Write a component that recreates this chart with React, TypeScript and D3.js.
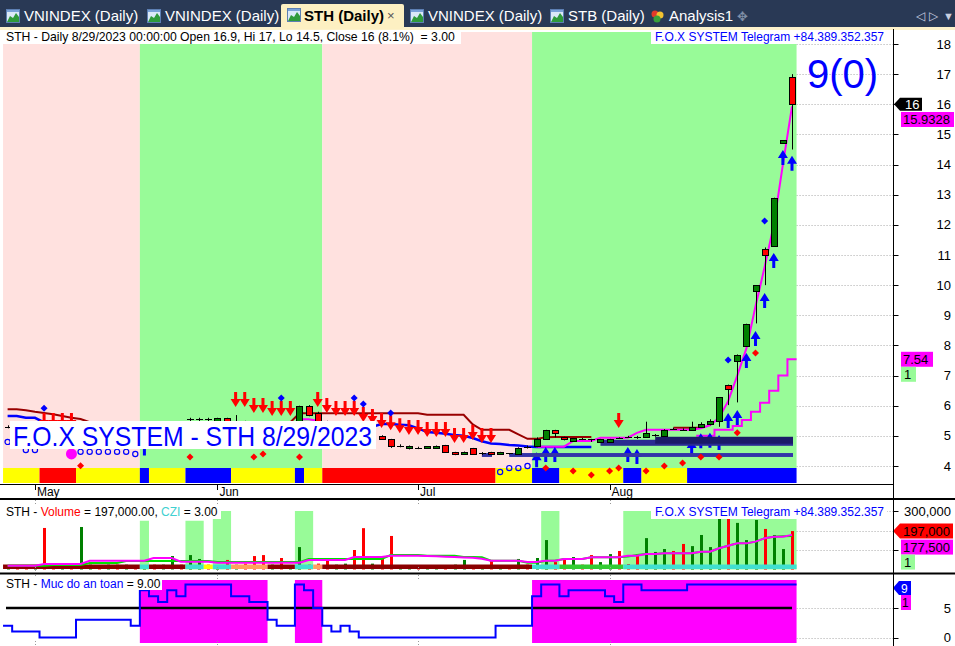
import React from 'react';
import * as d3 from 'd3';

const FONT = "'Liberation Sans', Arial, sans-serif";
const _ = null;

// trading days on screen
const aprDays = [26, 27, 28];
const mayDays = [4, 5, 8, 9, 10, 11, 12, 15, 16, 17, 18, 19, 22, 23, 24, 25, 26, 29, 30, 31];
const junDays = [1, 2, 5, 6, 7, 8, 9, 12, 13, 14, 15, 16, 19, 20, 21, 22, 23, 26, 27, 28, 29, 30];
const julDays = [3, 4, 5, 6, 7, 10, 11, 12, 13, 14, 17, 18, 19, 20, 21, 24, 25, 26, 27, 28, 31];
const augDays = [1, 2, 3, 4, 7, 8, 9, 10, 11, 14, 15, 16, 17, 18, 21, 22, 23, 24, 25, 28, 29];
const monthNames = ['May', 'Jun', 'Jul', 'Aug'];

const dates = [
  ...aprDays.map(d => `4/${d}`),
  ...mayDays.map(d => `5/${d}`),
  ...junDays.map(d => `6/${d}`),
  ...julDays.map(d => `7/${d}`),
  ...augDays.map(d => `8/${d}`),
];
const monthFirst = [`5/${mayDays[0]}`, `6/${junDays[0]}`, `7/${julDays[0]}`, `8/${augDays[0]}`];

// candles
const opens = [5.3, 5.3, 5.25, 5.25, 5.2, 5.05, 5.0, 5.0, 4.95, 5.15,
  5.2, 5.15, 5.2, 5.2, 5.2, 5.2, 5.25, 5.2, 5.25, 5.4,
  5.55, 5.55, 5.55, 5.4, 5.58, 5.45, 5.45, 5.42, 5.38, 5.35,
  5.38, 5.32, 5.46, 6.0, 5.76, 5.46, 5.35, 5.3, 5.35, 5.2,
  5.05, 5.0, 4.9, 4.68, 4.6, 4.6, 4.6, 4.6, 4.7, 4.47,
  4.4, 4.6, 4.42, 4.47, 4.4, 4.43, 4.4, 4.63, 4.66, 4.9,
  5.2, 4.97, 4.83, 4.9, 4.9, 4.8, 4.8, 4.93, 4.96, 4.96,
  4.97, 5.03, 5.0, 5.23, 5.21, 5.2, 5.3, 5.4, 5.5, 6.68,
  7.47, 7.96, 9.8, 11.19, 11.3, 14.7, 16.9];
const highs = [5.35, 5.35, 5.3, 5.3, 5.4, 5.1, 5.05, 5.05, 5.3, 5.25,
  5.25, 5.25, 5.25, 5.25, 5.25, 5.3, 5.3, 5.3, 5.45, 5.45,
  5.6, 5.6, 5.6, 5.6, 5.6, 5.69, 5.5, 5.48, 5.45, 5.4,
  5.42, 5.4, 6.0, 6.02, 5.8, 5.5, 5.4, 5.38, 5.4, 5.25,
  5.1, 5.02, 4.9, 4.72, 4.68, 4.64, 4.66, 4.68, 4.7, 4.47,
  4.48, 4.6, 4.46, 4.47, 4.47, 4.43, 4.62, 4.68, 4.95, 5.2,
  5.2, 4.97, 4.93, 4.93, 4.9, 4.9, 4.9, 4.95, 5.0, 5.0,
  5.47, 5.06, 5.22, 5.27, 5.25, 5.47, 5.45, 5.55, 6.28, 6.7,
  7.7, 8.72, 10.0, 11.25, 12.9, 14.8, 17.0];
const lows = [5.25, 5.2, 5.2, 5.15, 5.0, 4.95, 4.95, 4.9, 4.9, 5.1,
  5.1, 5.1, 5.15, 5.1, 5.15, 5.15, 5.2, 5.15, 5.2, 5.35,
  5.45, 5.45, 5.45, 5.35, 5.35, 5.4, 5.4, 5.35, 5.3, 5.3,
  5.3, 5.3, 5.4, 5.65, 5.4, 5.3, 5.25, 5.25, 5.15, 5.0,
  4.98, 4.9, 4.6, 4.62, 4.55, 4.56, 4.58, 4.58, 4.45, 4.36,
  4.38, 4.38, 4.36, 4.36, 4.38, 4.38, 4.38, 4.58, 4.62, 4.9,
  4.95, 4.85, 4.83, 4.86, 4.8, 4.8, 4.8, 4.9, 4.93, 4.9,
  4.93, 4.97, 4.97, 5.2, 5.18, 5.17, 5.3, 5.35, 5.3, 6.02,
  6.11, 7.96, 8.73, 10.0, 11.3, 14.7, 14.5];
const closes = [5.3, 5.25, 5.25, 5.2, 5.05, 5.0, 5.0, 4.95, 5.2, 5.2,
  5.15, 5.2, 5.2, 5.2, 5.2, 5.25, 5.2, 5.25, 5.4, 5.4,
  5.55, 5.55, 5.55, 5.58, 5.4, 5.45, 5.42, 5.38, 5.35, 5.38,
  5.32, 5.38, 5.99, 5.69, 5.46, 5.35, 5.3, 5.35, 5.2, 5.05,
  5.02, 4.9, 4.66, 4.68, 4.68, 4.6, 4.66, 4.68, 4.47, 4.4,
  4.47, 4.4, 4.42, 4.4, 4.47, 4.43, 4.6, 4.63, 4.9, 5.2,
  5.1, 4.9, 4.93, 4.9, 4.9, 4.9, 4.9, 4.93, 4.96, 4.96,
  5.1, 5.03, 5.2, 5.23, 5.21, 5.3, 5.4, 5.5, 6.28, 6.56,
  7.67, 8.7, 10.0, 10.99, 12.88, 14.8, 16.0];

// price-pane overlays
const resistLine = [5.88, 5.88, 5.85, 5.8, 5.76, 5.72, 5.66, 5.6, 5.56,
  5.45, 5.45, 5.45, 5.45, 5.45, 5.45, 5.45, 5.45, 5.45, 5.45, 5.45, 5.45, 5.45, 5.45, 5.45, 5.45, 5.45, 5.45, 5.45, 5.45, 5.45, 5.45, 5.45,
  5.75, 5.75, 5.75, 5.75, 5.75, 5.75, 5.75, 5.75, 5.75, 5.75, 5.75, 5.75, 5.75, 5.75,
  5.7, 5.7, 5.7, 5.7, 5.7, 5.38, 5.2, 5.2, 5.2, 5.2, 5.05, 4.9, 4.9, 4.95,
  4.96, 4.96, 4.96, 4.96, 4.96, _, _, _, _, _, _, _, _,
  5.27, 5.27, 5.27, 5.27, _, _, _, _, _, _, _, _, _, _];
const blueLine = [5.66, 5.66, 5.6, 5.6, 5.45,
  5.3, 5.3, 5.3, 5.3, 5.3, 5.3, 5.3, 5.3, 5.3, 5.3, 5.3, 5.3, 5.3, 5.3, 5.3, 5.3, 5.3, 5.3,
  5.3, 5.3, 5.3, 5.3, 5.3, 5.3, 5.3, 5.3, 5.3, 5.3, 5.3, 5.3, 5.3, 5.3, 5.3, 5.3, 5.3, 5.3,
  5.39, 5.39, 5.37, 5.35, 5.25, 5.13, 5.1, 5.07, 5.03, 5.0, 4.93, 4.82, 4.75, 4.73, 4.7, 4.68, 4.65,
  4.63, 4.63, 4.63, 4.63, 4.63, 4.63, 4.63,
  _, _, _, _, _, _, _, _, _, _, _, _, _, _, _, _, _, _, _, _, _, _];
const maLine = [_, _, _, _, _, _, _, _, _, _, _, _, _, _, _,
  5.3, 5.3, 5.3, 5.3, 5.3, 5.3, 5.3, 5.3, 5.3, 5.3, 5.3, 5.3, 5.3, 5.3, 5.3, 5.3, 5.3,
  5.55, 5.55, 5.5,
  _, _, _, _, _, _, _, _, _, _, _, _, _, _, _, _, _, _, _, _, _, _, _,
  4.64, 4.64, 4.64, 4.64, 4.83, 4.83, 4.83, 4.94, 4.94, 4.94, 4.94, 5.1,
  5.2, 5.2, 5.2, 5.2, 5.2, 5.2, 5.25, 5.35, 5.6, 6.15, 7.0, 7.9, 9.3, 10.6, 12.0, 14.0, 15.93];
const stopLine = [...Array(76).fill(_), 5.0, 5.0, 5.2, 5.2, 5.33, 5.53, 5.8, 6.1, 6.5, 7.0, 7.54];

const zoneStart = [0, 15, 35, 58];
const zoneEnd = [14, 34, 57, 86];
const zoneKind = ['sell', 'buy', 'sell', 'buy'];

const stripLen = [4, 4, 7, 1, 4, 5, 7, 1, 2, 19, 4, 3, 7, 2, 5, 12];
const stripCol = ['Y', 'R', 'Y', 'B', 'Y', 'B', 'Y', 'B', 'Y', 'R', 'Y', 'B', 'Y', 'B', 'Y', 'B'];

const downArrowBar = [4, 5, 6, 7, 25, 26, 27, 28, 29, 30, 31, 34, 35, 36, 37, 38, 39, 40, 41, 42, 43, 44, 45, 46, 47, 48, 49, 50, 51, 52, 53, 67];
const downArrowTip = [5.26, 5.26, 5.26, 5.26, 5.96, 5.96, 5.76, 5.76, 5.66, 5.66, 5.66, 5.96, 5.76, 5.66, 5.66, 5.66, 5.46, 5.39, 5.26, 5.19, 5.09, 5.03, 5.03, 4.96, 4.96, 4.96, 4.76, 4.76, 4.86, 4.76, 4.76, 5.26];
const upArrowBar = [15, 58, 59, 60, 68, 69, 75, 76, 77, 78, 79, 80, 81, 82, 83, 84, 85, 86];
const upArrowTip = [4.85, 4.46, 4.63, 4.63, 4.63, 4.56, 4.86, 5.09, 5.1, 5.03, 5.76, 5.86, 7.75, 8.48, 9.74, 11.07, 14.48, 14.29];
const blueDiaBar = [4, 30, 38, 39, 42, 79, 83];
const blueDiaVal = [5.92, 6.26, 6.26, 6.06, 5.76, 7.52, 12.13];
const redDiaBar = [8, 20, 27, 28, 32, 59, 62, 64, 66, 67, 70, 72, 74, 76, 78, 80, 82];
const redDiaVal = [4.01, 4.3, 4.3, 4.4, 4.3, 3.93, 3.83, 3.7, 3.83, 3.93, 3.83, 4.0, 4.1, 4.3, 4.3, 5.1, 7.75];
const circleBar = [0, 2, 3, 8, 9, 10, 11, 12, 13, 14, 54, 55, 56, 57];
const circleVal = [4.8, 4.53, 4.53, 4.47, 4.47, 4.47, 4.47, 4.47, 4.47, 4.4, 3.8, 3.93, 3.93, 4.0];
const bigDotBar = 7;
const bigDotVal = 4.4;

const bandStart = [65, 71, 52, 55];
const bandEnd = [86, 86, 53, 86];
const bandHi = [4.87, 4.97, 4.43, 4.43];
const bandLo = [4.67, 4.74, 4.3, 4.3];
const bandCol = ['#2b2b92', '#1b1b68', '#3434a8', '#3434a8'];

const priceTicks = d3.range(4, 19);

// volume pane (thousands)
const volK = [20, 15, 18, 20, 213, 15, 20, 15, 218, 25,
  15, 25, 25, 25, 20, 20, 25, 25, 69, 25,
  74, 54, 25, 15, 49, 25, 30, 69, 74, 25,
  59, 20, 115, 25, 30, 59, 25, 30, 100, 212,
  30, 64, 172, 10, 15, 20, 10, 20, 10, 25,
  49, 20, 15, 49, 20, 20, 54, 25, 59, 151,
  38, 59, 64, 25, 74, 38, 79, 95, 28, 79,
  161, 90, 105, 95, 131, 120, 177, 115, 264, 264,
  239, 151, 254, 208, 177, 105, 197];
const volDir = 'grrgrrgrgg' + 'rgrgrgrggr' + 'ggrgrgrrrg' + 'rggrrrggrr' + 'grrggrggrg' +
  'grgrgrgrgg' + 'rrgrrggrrr' + 'gggrrggggr' + 'gggrggr';
const volMaSlow = [19, 19, 19, 19, 19, 23, 23, 23, 23, 33,
  33, 33, 33, 44, 44, 44, 44, 44, 44, 44,
  44, 44, 44, 38, 38, 38, 38, 38, 38, 38,
  38, 38, 38, 54, 54, 54, 54, 54, 54, 54,
  54, 54, 74, 74, 74, 74, 71, 71, 71, 71,
  64, 64, 63, 45, 45, 45, 45, 35, 35, 45,
  45, 54, 54, 54, 63, 63, 63, 63, 66, 74,
  79, 79, 83, 83, 83, 83, 91, 91, 109, 122,
  134, 134, 143, 160, 168, 170, 172];
const volMaFast = [19, 19, 19, 19, 28, 28, 28, 28, 28, 45,
  45, 45, 45, 45, 45, 45, 59, 59, 59, 40,
  40, 40, 40, 35, 35, 35, 35, 35, 35, 35,
  35, 35, 35, 49, 49, 49, 49, 49, 64, 64,
  64, 64, 71, 71, 70, 70, 69, 68, 66, 64,
  62, 60, 55, 45, 45, 45, 45, 38, 38, 45,
  45, 54, 54, 54, 63, 63, 63, 63, 70, 70,
  79, 79, 83, 83, 83, 83, 91, 91, 109, 122,
  134, 134, 143, 160, 168, 168, 177.5];
const volStripLen = [15, 1, 4, 2, 1, 2, 4, 3, 2, 1, 23, 3, 7, 19];
const volStripCol = ['#8b0000', '#40e0d0', '#8b0000', '#40e0d0', '#ffff00', '#40e0d0', '#ffa060', '#8b0000', '#40e0d0', '#ffa060', '#8b0000', '#40e0d0', '#32cd32', '#40e0d0'];
const volBlockStart = [15, 20, 23, 32, 59, 68];
const volBlockEnd = [15, 21, 24, 33, 60, 86];
const volBlockTop = [250, 250, 300, 300, 300, 300]; // thousands
const volTicks = [100, 200, 300];
const volTickLabels = [300]; // the others sit under the value tags

// safety pane
const safety = [2, 1, 1, 1, 0, 0, 0, 0, 3, 3,
  3, 3, 3, 3, 2, 8, 7, 6, 8, 7,
  9, 9, 9, 9, 9, 7, 7, 6, 6, 3,
  2, 2, 9, 8, 5, 2, 1, 2, 1, 0,
  0, 0, 0, 0, 0, 0, 0, 0, 0, 0,
  0, 0, 0, 0, 2, 2, 2, 2, 7, 9,
  9, 7, 8, 8, 8, 8, 7, 6, 9, 9,
  8, 8, 8, 8, 8, 9, 9, 9, 9, 9,
  9, 9, 9, 9, 9, 9, 9];
const safeBlockStart = [15, 32, 58];
const safeBlockEnd = [28, 34, 86];

const tabLabels = ['VNINDEX (Daily)', 'VNINDEX (Daily)', 'STH (Daily)', 'VNINDEX (Daily)', 'STB (Daily)', 'Analysis1'];

export default function App() {
  const AX = 893.5;
  const x = d3.scalePoint<string>().domain(dates).range([7.6, 792]);
  const step = x.step();
  const xi = (i: number) => x(dates[i]) as number;
  const py = d3.scaleLinear().domain([4, 18]).range([466, 44]);
  const vy = d3.scaleLinear().domain([0, 300]).range([569.5, 511]);
  const sy = d3.scaleLinear().domain([0, 9]).range([637.5, 584.4]);
  const rightEdge = xi(dates.length - 1) + step / 2;
  const crisp = (v: number) => Math.round(v) + 0.5;

  const pathOf = (vals: (number | null)[], y: d3.ScaleLinear<number, number>) =>
    d3.line<number | null>()
      .defined(v => v != null)
      .x((_v, i) => xi(i))
      .y(v => y(v as number))(vals) || '';

  const stepPath = (vals: (number | null)[], y: d3.ScaleLinear<number, number>) => {
    const pts: [number, number][] = [];
    vals.forEach((v, i) => {
      if (v == null) return;
      pts.push([xi(i) - step / 2, y(v)], [xi(i) + step / 2, y(v)]);
    });
    return d3.line()(pts) || '';
  };

  const span = (a: number, b: number) => [xi(a) - step / 2, xi(b) + step / 2];

  const stripRects: { s: number; e: number; c: string }[] = [];
  let acc = 0;
  stripLen.forEach((n, k) => { stripRects.push({ s: acc, e: acc + n - 1, c: stripCol[k] }); acc += n; });
  const stripColor: Record<string, string> = { Y: '#ffff00', R: '#ff0000', B: '#0000ff' };

  const volStrip: { s: number; e: number; c: string }[] = [];
  acc = 0;
  volStripLen.forEach((n, k) => { volStrip.push({ s: acc, e: acc + n - 1, c: volStripCol[k] }); acc += n; });

  const downArrow = (cx: number, tip: number) =>
    `M${cx - 1.5},${tip - 15}h3v7h3.5l-5,8l-5,-8h3.5z`;
  const upArrow = (cx: number, tip: number) =>
    `M${cx},${tip}l5,8h-3.5v7h-3v-7h-3.5z`;
  const diamond = (cx: number, cy: number) =>
    `M${cx},${cy - 3.5}l3.5,3.5l-3.5,3.5l-3.5,-3.5z`;

  const tabIconX = [6, 147, 287, 410, 550];
  const tabTextX = [24, 165, 304, 428, 568, 669];

  return (
    <>
      <style>{'body{margin:0}'}</style>
      <svg width={955} height={646} style={{ display: 'block', fontFamily: FONT }}>
        <rect width={955} height={646} fill="#fff" />

        {/* tab bar */}
        <rect width={955} height={28} fill="#293955" />
        <rect x={0} y={27} width={955} height={3} fill="#fdf2cc" />
        <rect x={281} y={4} width={123} height={25} rx={2} fill="#fdf0c2" />
        {tabIconX.map((ix, k) => (
          <g key={'ti' + k} transform={`translate(${ix},${k === 2 ? 8 : 9})`}>
            <rect x={0.5} y={0.5} width={13} height={13} fill="#dbe9f7" stroke="#5d7fb3" />
            <path d="M1,13 L4,7 L7,9 L10,4 L13,8 L13,13 Z" fill="#2f9a3a" />
            <rect x={1} y={1} width={12} height={2} fill="#7aa2d8" />
          </g>
        ))}
        <g transform="translate(650,9)">
          <circle cx={5} cy={5} r={3.5} fill="#e23a2a" />
          <circle cx={10} cy={6} r={3.5} fill="#f2c230" />
          <circle cx={7} cy={10} r={3.5} fill="#3aa13a" />
        </g>
        {tabLabels.map((t, k) => (
          <text key={'tt' + k} x={tabTextX[k]} y={21} fontSize={15}
            fill={k === 2 ? '#000' : '#fff'} fontWeight={k === 2 ? 'bold' : 'normal'}>{t}</text>
        ))}
        <text x={387} y={20} fontSize={13} fill="#555">×</text>
        <text x={737} y={21} fontSize={13} fill="#8090a8">✥</text>
        <text x={916} y={20} fontSize={12} fill="#c8d0e0">◁</text>
        <text x={929} y={20} fontSize={12} fill="#c8d0e0">▷</text>
        <text x={943} y={20} fontSize={11} fill="#c8d0e0">▼</text>

        {/* ===== price pane ===== */}
        {priceTicks.map(v => (
          <line key={'pg' + v} x1={rightEdge} x2={AX} y1={crisp(py(v))} y2={crisp(py(v))}
            stroke="#a8a8a8" strokeDasharray="1,2" />
        ))}
        {zoneStart.map((s, k) => {
          const [a, b] = span(s, zoneEnd[k]);
          return <rect key={'z' + k} x={a} y={32} width={b - a} height={436}
            fill={zoneKind[k] === 'buy' ? '#98fb98' : '#ffe1df'} />;
        })}
        {stripRects.map((r, k) => {
          const [a, b] = span(r.s, r.e);
          return <rect key={'s' + k} x={a} y={468} width={b - a} height={15} fill={stripColor[r.c]} />;
        })}

        <path d={pathOf(resistLine, py)} fill="none" stroke="#990000" strokeWidth={2} />
        <path d={pathOf(blueLine, py)} fill="none" stroke="#0000ff" strokeWidth={2.5} />
        <path d={pathOf(maLine, py)} fill="none" stroke="#ff00ff" strokeWidth={2} />
        <path d={stepPath(stopLine, py)} fill="none" stroke="#ff00ff" strokeWidth={2} />

        {downArrowBar.map((b, k) => (
          <path key={'da' + k} d={downArrow(xi(b), py(downArrowTip[k]))} fill="#ff0000" />
        ))}
        {upArrowBar.map((b, k) => (
          <path key={'ua' + k} d={upArrow(xi(b), py(upArrowTip[k]))} fill="#0000ff" />
        ))}

        {bandStart.map((s, k) => (
          <rect key={'b' + k} x={xi(s)} y={py(bandHi[k])} width={xi(bandEnd[k]) + 1 - xi(s)}
            height={py(bandLo[k]) - py(bandHi[k])} fill={bandCol[k]} />
        ))}

        {dates.map((d, i) => {
          const cx = crisp(xi(i));
          const o = opens[i], c = closes[i];
          const yh = py(highs[i]), yl = py(lows[i]);
          if (Math.abs(o - c) < 0.005) {
            return (
              <g key={'c' + i}>
                <line x1={cx} x2={cx} y1={yh} y2={yl} stroke="#000" />
                <line x1={cx - 3.5} x2={cx + 3.5} y1={crisp(py(o))} y2={crisp(py(o))} stroke="#000" />
              </g>
            );
          }
          const top = py(Math.max(o, c)), bot = py(Math.min(o, c));
          return (
            <g key={'c' + i}>
              <line x1={cx} x2={cx} y1={yh} y2={yl} stroke="#000" />
              <rect x={cx - 3} y={Math.round(top) + 0.5} width={6} height={Math.max(Math.round(bot - top), 1)}
                fill={c > o ? '#008000' : '#ff0000'} stroke="#000" />
            </g>
          );
        })}

        {blueDiaBar.map((b, k) => (
          <path key={'bd' + k} d={diamond(xi(b), py(blueDiaVal[k]))} fill="#0000ff" />
        ))}
        {redDiaBar.map((b, k) => (
          <path key={'rd' + k} d={diamond(xi(b), py(redDiaVal[k]))} fill="#ff0000" />
        ))}
        {circleBar.map((b, k) => (
          <circle key={'oc' + k} cx={xi(b)} cy={py(circleVal[k])} r={2.6} fill="none" stroke="#0000ff" strokeWidth={1.2} />
        ))}
        <circle cx={xi(bigDotBar)} cy={py(bigDotVal)} r={5.5} fill="#ff00ff" />

        {/* x axis */}
        <line x1={0} x2={AX} y1={484.5} y2={484.5} stroke="#000" />
        {monthFirst.map((m, k) => (
          <g key={'m' + k}>
            <line x1={crisp(x(m) as number)} x2={crisp(x(m) as number)} y1={485} y2={490} stroke="#000" />
            <text x={(x(m) as number) + 2} y={496} fontSize={12} fill="#000">{monthNames[k]}</text>
          </g>
        ))}

        {/* overlays text */}
        <rect x={10} y={421} width={366} height={28} fill="#fff" />
        <text x={13} y={446} fontSize={28} fill="#0000ff" textLength={359} lengthAdjust="spacingAndGlyphs">F.O.X SYSTEM - STH 8/29/2023</text>
        <text x={807} y={88} fontSize={40} fill="#0000ff">9(0)</text>

        <rect x={3} y={30} width={458} height={14} fill="#fff" />
        <text x={6} y={41} fontSize={12.2} fill="#000">{'STH - Daily 8/29/2023 00:00:00 Open 16.9, Hi 17, Lo 14.5, Close 16 (8.1%)\u00a0\u00a0= 3.00'}</text>
        <rect x={651} y={30} width={236} height={14} fill="#fff" />
        <text x={884} y={41} fontSize={12} fill="#0000ff" textAnchor="end">F.O.X SYSTEM Telegram +84.389.352.357</text>

        {/* price axis */}
        {priceTicks.map(v => (
          <g key={'pt' + v}>
            <line x1={AX} x2={AX + 5} y1={crisp(py(v))} y2={crisp(py(v))} stroke="#000" />
            <text x={951} y={py(v) + 4.5} fontSize={13} textAnchor="end" fill="#000">{v}</text>
          </g>
        ))}
        <path d={`M894,${py(16)} L900,${py(16) - 6.5} H922 V${py(16) + 6.5} H900 Z`} fill="#000" />
        <text x={905} y={py(16) + 4.5} fontSize={13} fill="#fff">16</text>
        <rect x={901} y={112} width={53} height={15} fill="#ff00ff" />
        <text x={903} y={124} fontSize={13} fill="#000">15.9328</text>
        <rect x={901} y={py(7.54) - 7.5} width={32} height={15} fill="#ff00ff" />
        <text x={903} y={py(7.54) + 4.5} fontSize={13} fill="#000">7.54</text>
        <rect x={901} y={py(7.54) + 7.5} width={15} height={15} fill="#98fb98" />
        <text x={904} y={py(7.54) + 19.5} fontSize={13} fill="#000">1</text>

        {/* ===== volume pane ===== */}
        <line x1={0} x2={955} y1={499} y2={499} stroke="#000" strokeWidth={2} />
        {volBlockStart.map((s, k) => {
          const [a, b] = span(s, volBlockEnd[k]);
          return <rect key={'vb' + k} x={a} y={vy(volBlockTop[k])} width={b - a}
            height={vy(0) - vy(volBlockTop[k])} fill="#98fb98" />;
        })}
        {volTicks.map(v => (
          <line key={'vg' + v} x1={rightEdge} x2={AX} y1={crisp(vy(v))} y2={crisp(vy(v))}
            stroke="#a8a8a8" strokeDasharray="1,2" />
        ))}
        {volK.map((v, i) => (
          <rect key={'v' + i} x={Math.round(xi(i)) - 1} y={vy(v)} width={3} height={vy(0) - vy(v)}
            fill={volDir[i] === 'g' ? '#008000' : '#ff0000'} />
        ))}
        {volStrip.map((r, k) => {
          const [a, b] = span(r.s, r.e);
          return <rect key={'vs' + k} x={a} y={564.5} width={b - a} height={4.5} fill={r.c} />;
        })}
        <path d={pathOf(volMaSlow, vy)} fill="none" stroke="#00e000" strokeWidth={2} />
        <path d={pathOf(volMaFast, vy)} fill="none" stroke="#ff00ff" strokeWidth={2} />
        {monthFirst.map((m, k) => (
          <g key={'vm' + k}>
            <line x1={crisp(x(m) as number)} x2={crisp(x(m) as number)} y1={500} y2={506} stroke="#999" strokeDasharray="1,2" />
            <line x1={crisp(x(m) as number)} x2={crisp(x(m) as number)} y1={567} y2={573} stroke="#999" strokeDasharray="1,2" />
          </g>
        ))}
        <rect x={3} y={505} width={218} height={14} fill="#fff" />
        <text x={6} y={516} fontSize={12} fill="#000">
          STH - <tspan fill="#ff0000">Volume</tspan> = 197,000.00, <tspan fill="#40d0d0">CZI</tspan> = 3.00
        </text>
        <rect x={651} y={505} width={236} height={14} fill="#fff" />
        <text x={884} y={516} fontSize={12} fill="#0000ff" textAnchor="end">F.O.X SYSTEM Telegram +84.389.352.357</text>
        {volTicks.map(v => (
          <line key={'vt' + v} x1={AX} x2={AX + 5} y1={crisp(vy(v))} y2={crisp(vy(v))} stroke="#000" />
        ))}
        {volTickLabels.map(v => (
          <text key={'vl' + v} x={951} y={vy(v) + 4.5} fontSize={13} textAnchor="end" fill="#000">{d3.format(',')(v * 1000)}</text>
        ))}
        <path d={`M893,${vy(197)} L900,${vy(197) - 7.5} H953 V${vy(197) + 7.5} H900 Z`} fill="#ff0000" />
        <text x={903} y={vy(197) + 4.5} fontSize={13} fill="#000">197,000</text>
        <rect x={901} y={vy(197) + 8.5} width={52} height={15} fill="#ff00ff" />
        <text x={903} y={vy(197) + 20.5} fontSize={13} fill="#000">177,500</text>
        <rect x={901} y={vy(197) + 23.5} width={14} height={15} fill="#98fb98" />
        <text x={904} y={vy(197) + 35.5} fontSize={13} fill="#000">1</text>

        {/* ===== safety pane ===== */}
        <line x1={0} x2={955} y1={573.5} y2={573.5} stroke="#000" strokeWidth={2} />
        {safeBlockStart.map((s, k) => {
          const [a, b] = span(s, safeBlockEnd[k]);
          return <rect key={'sb' + k} x={a} y={580} width={b - a} height={63} fill="#ff00ff" />;
        })}
        {[0, 5].map(v => (
          <line key={'sg' + v} x1={rightEdge} x2={AX} y1={crisp(sy(v))} y2={crisp(sy(v))}
            stroke="#a8a8a8" strokeDasharray="1,2" />
        ))}
        <line x1={6} x2={xi(dates.length - 1)} y1={sy(5)} y2={sy(5)} stroke="#000" strokeWidth={2.5} />
        <path d={stepPath(safety, sy)} fill="none" stroke="#0000ff" strokeWidth={2} />
        {monthFirst.map((m, k) => (
          <g key={'sm' + k}>
            <line x1={crisp(x(m) as number)} x2={crisp(x(m) as number)} y1={575} y2={580} stroke="#999" strokeDasharray="1,2" />
            <line x1={crisp(x(m) as number)} x2={crisp(x(m) as number)} y1={641} y2={646} stroke="#999" strokeDasharray="1,2" />
          </g>
        ))}
        <rect x={3} y={577} width={159} height={13} fill="#fff" />
        <text x={6} y={588} fontSize={12} fill="#000">
          STH - <tspan fill="#0000ff">Muc do an toan</tspan> = 9.00
        </text>
        {[0, 5].map(v => (
          <g key={'st' + v}>
            <line x1={AX} x2={AX + 5} y1={crisp(sy(v))} y2={crisp(sy(v))} stroke="#000" />
            <text x={951} y={sy(v) + 4.5} fontSize={13} textAnchor="end" fill="#000">{v}</text>
          </g>
        ))}
        <path d="M893,588 L899,581 H911 V595 H899 Z" fill="#0000ff" />
        <text x={901} y={593} fontSize={12} fill="#fff">9</text>
        <rect x={901} y={595} width={10} height={15} fill="#ff00ff" />
        <text x={902} y={607} fontSize={12} fill="#000">1</text>

        {/* right axis line */}
        <line x1={AX} x2={AX} y1={29} y2={646} stroke="#000" />
      </svg>
    </>
  );
}
